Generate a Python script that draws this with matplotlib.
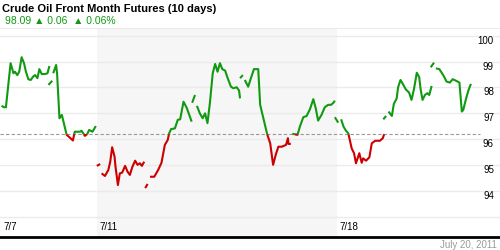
import numpy as np
import matplotlib
matplotlib.use("Agg")
import matplotlib.pyplot as plt

plt.rcParams['font.family'] = ['Liberation Sans', 'DejaVu Sans']

# trading time in days since 7/7 open, nan = break in the line
t = [0.00, 0.07, np.nan,
     0.09, 0.19, 0.25, 0.28, 0.33, 0.37, 0.42, 0.47, 0.51, 0.56, 0.61, 0.66, 0.70, 0.75, 0.79, 0.84, 0.91, 0.96, 1.00, np.nan,
     0.98, 1.06, np.nan,
     1.08, 1.14, 1.16, 1.21, 1.26, 1.36, 1.44, 1.49, 1.53, 1.64, 1.67, 1.74, 1.79, 1.83, 1.90, 1.97, np.nan,
     1.99, 2.06, np.nan,
     2.09, 2.16, 2.23, 2.27, 2.31, 2.36, 2.38, 2.43, 2.47, 2.52, 2.58, 2.63, 2.68, 2.73, 2.79, 2.84, 2.89, 2.93, 2.98, np.nan,
     3.00, 3.05, np.nan,
     3.10, 3.19, 3.27, 3.34, 3.41, 3.47, 3.50, 3.54, 3.62, 3.68, 3.73, 3.80, 3.87, 3.97, np.nan,
     3.98, 4.04, np.nan,
     4.08, 4.14, 4.20, 4.25, 4.30, 4.35, 4.41, 4.46, 4.51, 4.56, 4.61, 4.67, 4.71, 4.79, 4.84, 4.91, 4.96, 4.98, np.nan,
     4.98, 5.04, np.nan,
     5.08, 5.15, 5.20, 5.27, 5.36, 5.40, 5.45, 5.54, 5.61, 5.67, 5.73, 5.78, 5.85, 5.94, 5.98, 5.99, 6.04, np.nan,
     6.07, 6.18, 6.23, 6.30, 6.37, 6.44, 6.51, 6.56, 6.61, 6.68, 6.75, 6.82, 6.88, 6.93, 6.96, np.nan,
     6.96, 7.03, np.nan,
     7.09, 7.14, 7.19, 7.24, 7.31, 7.36, 7.40, 7.47, 7.52, 7.55, 7.61, 7.68, 7.73, 7.80, 7.90, 7.96, 7.99, np.nan,
     7.97, 8.03, np.nan,
     8.08, 8.15, 8.19, 8.25, 8.28, 8.33, 8.39, 8.44, 8.51, 8.56, 8.61, 8.67, 8.72, 8.75, 8.79, 8.84, 8.89, 8.93, 8.98, np.nan,
     8.96, 9.03, np.nan,
     9.07, 9.14, 9.19, 9.24, 9.29, 9.36, 9.42, 9.49, 9.56, 9.61, 9.64, 9.70, 9.75, 9.80]
price = [97.29, 97.22, np.nan,
         97.20, 98.94, 98.55, 98.61, 98.48, 98.61, 99.17, 98.94, 98.61, 98.32, 98.29, 98.42, 98.48, 98.36, 98.71, 98.52, 98.52, 98.55, 98.83, np.nan,
         98.10, 98.26, np.nan,
         98.55, 98.87, 98.55, 96.81, 96.94, 96.17, 96.04, 95.95, 96.29, 96.29, 96.33, 96.13, 96.20, 96.36, 96.29, 96.51, np.nan,
         94.97, 95.04, np.nan,
         94.68, 94.58, 94.81, 95.13, 95.69, 95.33, 94.94, 94.23, 94.68, 94.71, 94.97, 94.75, 94.62, 94.92, 95.17, 95.01, 95.07, 94.97, 95.13, np.nan,
         94.11, 94.27, np.nan,
         94.55, 94.55, 94.81, 95.09, 95.78, 95.97, 96.23, 96.39, 96.42, 96.75, 96.77, 97.45, 97.20, 96.68, np.nan,
         97.41, 97.71, np.nan,
         97.29, 97.00, 96.81, 97.00, 96.62, 97.39, 98.55, 98.91, 98.61, 98.94, 98.71, 98.65, 98.42, 98.03, 97.97, 98.01, 97.88, 97.58, np.nan,
         98.36, 98.48, np.nan,
         98.29, 98.03, 98.32, 98.71, 98.71, 97.33, 96.94, 96.23, 95.84, 95.01, 95.43, 95.71, 95.71, 95.78, 96.04, 95.82, 95.82, np.nan,
         96.21, 96.17, 96.49, 96.85, 96.90, 97.16, 97.55, 97.20, 96.72, 96.94, 97.24, 97.33, 97.33, 97.41, 97.49, np.nan,
         96.85, 96.64, np.nan,
         96.77, 96.49, 96.33, 96.23, 95.65, 95.46, 95.07, 95.46, 95.09, 95.26, 95.17, 95.30, 95.84, 95.94, 95.94, 96.04, 96.20, np.nan,
         96.77, 96.90, np.nan,
         97.07, 96.90, 97.36, 97.58, 98.01, 98.29, 98.10, 97.93, 97.80, 97.52, 97.93, 98.57, 98.40, 97.93, 97.52, 97.71, 97.78, 97.71, 98.06, np.nan,
         98.78, 98.96, np.nan,
         98.74, 98.71, 98.57, 98.42, 98.23, 98.19, 98.32, 98.26, 98.19, 97.07, 97.13, 97.58, 97.90, 98.14]

ref_price = 96.19
y_ticks = [94, 95, 96, 97, 98, 99, 100]
x_tick_pos = [0, 2, 7]
x_tick_labels = ['7/7', '7/11', '7/18']
week_start, week_end = 2, 7

GREEN = '#119911'
RED = '#cc0000'


def split_color(xs, ys, ref):
    # add the points where the line crosses the reference level
    ox, oy = [], []
    for i in range(len(xs)):
        if i > 0 and not np.isnan(ys[i]) and not np.isnan(ys[i - 1]):
            y0, y1 = ys[i - 1], ys[i]
            if (y0 - ref) * (y1 - ref) < 0:
                f = (ref - y0) / (y1 - y0)
                ox.append(xs[i - 1] + f * (xs[i] - xs[i - 1]))
                oy.append(ref)
        ox.append(xs[i])
        oy.append(ys[i])
    ox, oy = np.array(ox), np.array(oy)
    up = np.where(oy >= ref, oy, np.nan)
    down = np.where(oy <= ref, oy, np.nan)
    return ox, up, down


fig = plt.figure(figsize=(5, 2.5), dpi=100)
ax = fig.add_axes([0, 0.052, 1, 0.836])

px_day = 47.9
ax.set_xlim(-1.5 / px_day, (500 - 1.5) / px_day)
ax.set_ylim(92.22, 100.30)

ax.axvspan(week_start, week_end, color='#f6f6f6', zorder=0, lw=0)
for v in [93] + y_ticks:
    ax.axhline(v, color='#ebebeb', lw=1, zorder=1)
ax.axhline(100.30, color='#e6e6e6', lw=1.2, zorder=1)

ax.plot([ax.get_xlim()[0], 10.0], [ref_price, ref_price], color='#999999',
        lw=0.8, ls=(0, (3, 2)), zorder=2)

xs, up, down = split_color(np.array(t, float), np.array(price, float), ref_price)
ax.plot(xs, up, color=GREEN, lw=1.5, zorder=3, solid_capstyle='butt')
ax.plot(xs, down, color=RED, lw=1.5, zorder=3, solid_capstyle='butt')

for v in y_ticks:
    ax.text(10.28, v - 0.19, str(v), ha='right', va='center', fontsize=7, color='black')
for p, lab in zip(x_tick_pos, x_tick_labels):
    ax.text(p + 0.05, 92.61, lab, ha='left', va='center', fontsize=7, color='black')

for s in ['top', 'left', 'right']:
    ax.spines[s].set_visible(False)
ax.spines['bottom'].set_color('black')
ax.spines['bottom'].set_linewidth(2)
ax.set_xticks([])
ax.set_yticks([])

fig.text(0.003, 0.966, 'Crude Oil Front Month Futures (10 days)', ha='left', va='center',
         fontsize=8, fontweight='bold', color='black')
fig.text(0.01, 0.917, '98.09 \u25b2 0.06  \u25b2 0.06%', ha='left', va='center',
         fontsize=7.5, color='#119911')
fig.text(0.994, 0.02, 'July 20, 2011', ha='right', va='center', fontsize=7, color='#999999')

fig.savefig('out.png', dpi=100)
